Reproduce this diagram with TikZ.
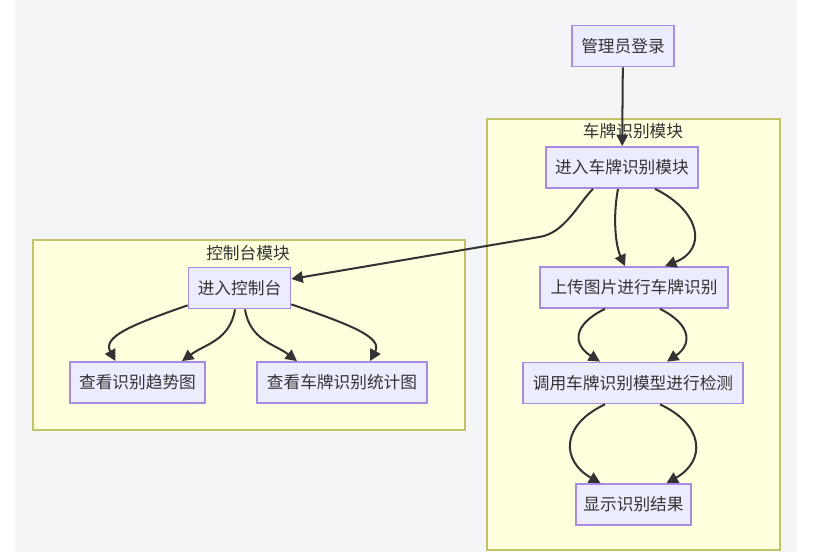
\documentclass[tikz,border=0pt]{standalone}
\usepackage{fontspec}
\setmainfont{Noto Sans CJK SC}
\usetikzlibrary{arrows.meta,calc}
\definecolor{bggray}{HTML}{F4F5F7}
\definecolor{clfill}{HTML}{FFFFDE}
\definecolor{clline}{HTML}{C2C266}
\definecolor{boxfill}{HTML}{ECECFF}
\definecolor{boxline}{HTML}{A88CE3}
\definecolor{txt}{HTML}{333333}

\begin{document}
\begin{tikzpicture}[x=0.02cm,y=-0.02cm,
        box/.style={draw=boxline,fill=boxfill,line width=1pt,minimum height=0.82cm,
            inner sep=0pt,text=txt,font=\fontsize{9.5}{11}\selectfont},
        cltitle/.style={text=txt,inner sep=0pt,font=\fontsize{9.5}{11}\selectfont},
        cluster/.style={draw=clline,fill=clfill,line width=1pt},
        edge/.style={draw=txt,line width=1.15pt,-{Triangle[length=6.5pt,width=6.5pt]}}]

        % Background
        \fill[white] (0,0) rectangle (836,552);
        \fill[bggray] (15,0) rectangle (797,552);
        \useasboundingbox (0,0) rectangle (836,552);

        % Clusters
        \draw[cluster] (487,119) rectangle (780,550);
        \draw[cluster] (33,240) rectangle (465,430);
        \node[cltitle] (platetitle) at (633,131) {车牌识别模块};
        \node[cltitle] (consoletitle) at (248,253) {控制台模块};

        % Nodes
        \node[box,minimum width=2.04cm] (login) at (623,46) {管理员登录};
        \node[box,minimum width=3.04cm] (plate) at (622,167.5) {进入车牌识别模块};
        \node[box,minimum width=3.76cm] (upload) at (634,287.5) {上传图片进行车牌识别};
        \node[box,minimum width=4.4cm] (detect) at (633,383) {调用车牌识别模型进行检测};
        \node[box,minimum width=2.3cm] (result) at (633.5,504.5) {显示识别结果};
        \node[box,minimum width=2.04cm] (console) at (239.5,288) {进入控制台};
        \node[box,minimum width=2.7cm] (trend) at (137.5,382.5) {查看识别趋势图};
        \node[box,minimum width=3.4cm] (stats) at (342,382.5) {查看车牌识别统计图};

        % Edges, right column
        \draw[edge] (login) -- (plate);
        \draw[edge] ($(plate.south)+(-29,0)$) .. controls +(-15,15) and +(25,-4.3) .. ($(plate.south)+(-82,48)$)
            -- ($(console.east)+(0,-9)$);
        \draw[edge] ($(plate.south)+(-4,0)$) .. controls +(-5,27) and +(-10,-22) .. ($(upload.north)+(-9,0)$);
        \draw[edge] ($(plate.south)+(33,0)$) .. controls +(45,22) and +(43,-17) .. ($(upload.north)+(31,0)$);
        \draw[edge] ($(upload.south)+(-29,0)$) .. controls +(-33,16) and +(-27,-17) .. ($(detect.north)+(-33,0)$);
        \draw[edge] ($(upload.south)+(26,0)$) .. controls +(32,16) and +(25,-17) .. ($(detect.north)+(34,0)$);
        \draw[edge] ($(detect.south)+(-28,0)$) .. controls +(-45,21) and +(-39,-22) .. ($(result.north)+(-33,0)$);
        \draw[edge] ($(detect.south)+(27,0)$) .. controls +(45,21) and +(39,-22) .. ($(result.north)+(33,0)$);

        % Edges, console
        \draw[edge] ($(console.south west)+(0,-4)$) .. controls +(-58,20) and +(-13,-24) .. ($(trend.north)+(-22,0)$);
        \draw[edge] ($(console.south)+(-4.5,0)$) .. controls +(-5,31) and +(23,-17) .. ($(trend.north)+(44.5,0)$);
        \draw[edge] ($(console.south)+(5.5,0)$) .. controls +(5,31) and +(-22,-17) .. ($(stats.north)+(-45,0)$);
        \draw[edge] ($(console.south east)+(0,-5)$) .. controls +(58,20) and +(13,-24) .. ($(stats.north)+(28,0)$);
    \end{tikzpicture}
\end{document}
